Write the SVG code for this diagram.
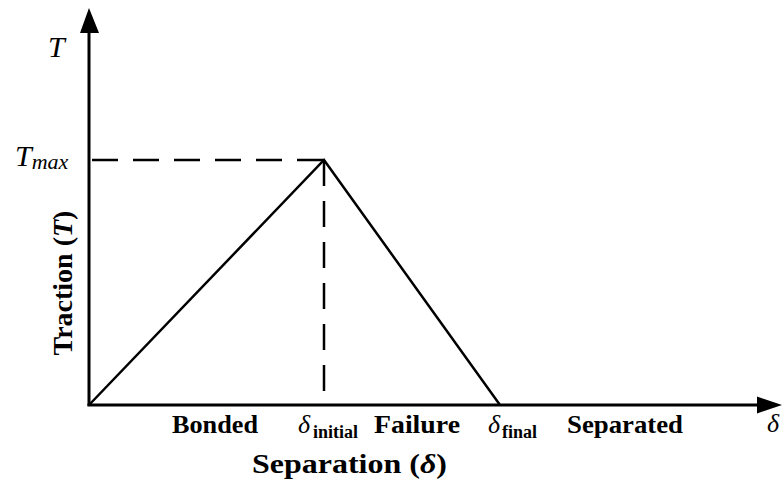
<svg xmlns="http://www.w3.org/2000/svg" width="782" height="483" viewBox="0 0 782 483">
<style>
.t{font-family:"Liberation Serif","Times New Roman",serif;fill:#000}
.b{font-weight:bold}
.i{font-style:italic}
.ax{stroke:#000;stroke-width:3;fill:none}
.ln{stroke:#000;stroke-width:2.5;fill:none}
.da{stroke:#000;stroke-width:2.5;fill:none;stroke-dasharray:26 15}
</style>
<rect width="782" height="483" fill="#fff"/>
<g id="connectors">
<line class="ax" x1="89" y1="406" x2="89" y2="30"/>
<polygon points="89,8 80,33 99,33" fill="#000"/>
<line class="ax" x1="87.5" y1="405" x2="760" y2="405"/>
<polygon points="782,405 757,396.5 757,413.5" fill="#000"/>
<line class="da" x1="92" y1="160" x2="324" y2="160"/>
<line class="da" x1="324" y1="160" x2="324" y2="405"/>
<polyline class="ln" points="89,405 324,160 500,405"/>
</g>
<g id="labels">
<text class="t i" x="48" y="57" font-size="30">T</text>
<text class="t i" x="15" y="166" font-size="30">T<tspan font-size="22" dy="3">max</tspan></text>
<text class="t b" transform="translate(72,283) rotate(-90)" text-anchor="middle" font-size="28">Traction (<tspan class="i">T</tspan>)</text>
<text class="t b" x="172" y="433" font-size="26" textLength="86" lengthAdjust="spacingAndGlyphs">Bonded</text>
<text class="t i" x="298" y="433" font-size="26">δ</text>
<text class="t b" x="313" y="438" font-size="18">initial</text>
<text class="t b" x="374" y="433" font-size="26" textLength="86" lengthAdjust="spacingAndGlyphs">Failure</text>
<text class="t i" x="488" y="433" font-size="26">δ</text>
<text class="t b" x="502" y="438" font-size="18">final</text>
<text class="t b" x="567" y="433" font-size="26" textLength="116" lengthAdjust="spacingAndGlyphs">Separated</text>
<text class="t i" x="767" y="432" font-size="26">δ</text>
<text class="t b" x="252" y="473" font-size="27" textLength="195" lengthAdjust="spacingAndGlyphs">Separation (<tspan class="i">δ</tspan>)</text>
</g>
</svg>
